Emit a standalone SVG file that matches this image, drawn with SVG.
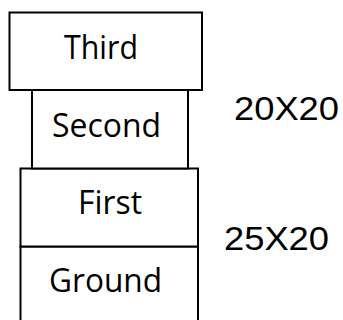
<svg xmlns="http://www.w3.org/2000/svg" width="343" height="320" viewBox="0 0 343 320">
<style>
.box{fill:#fff;stroke:#000;stroke-width:2}
.lbl{font-family:"Open Sans","Noto Sans",sans-serif;font-size:33px;fill:#000;text-anchor:middle}
.dim{font-family:"Liberation Sans",Arial,sans-serif;font-size:33px;fill:#000;text-anchor:middle}
</style>
<rect width="343" height="320" fill="#fff"/>
<g id="ground">
<rect class="box" x="20.5" y="246.5" width="177.5" height="90"/>
<text class="lbl" x="105.5" y="292" textLength="113" lengthAdjust="spacingAndGlyphs">Ground</text>
</g>
<g id="first">
<rect class="box" x="20.5" y="168.5" width="177.5" height="78"/>
<text class="lbl" x="110" y="214" textLength="64" lengthAdjust="spacingAndGlyphs">First</text>
</g>
<g id="second">
<rect class="box" x="32" y="90" width="156" height="78.5"/>
<text class="lbl" x="106.5" y="137" textLength="109" lengthAdjust="spacingAndGlyphs">Second</text>
</g>
<g id="third">
<rect class="box" x="9.5" y="12.5" width="192.5" height="77.5"/>
<text class="lbl" x="101" y="59" textLength="74" lengthAdjust="spacingAndGlyphs">Third</text>
</g>
<g id="dim1">
<text class="dim" x="286.5" y="120" textLength="105" lengthAdjust="spacingAndGlyphs">20X20</text>
</g>
<g id="dim2">
<text class="dim" x="276.5" y="250" textLength="105" lengthAdjust="spacingAndGlyphs">25X20</text>
</g>
<g id="connectors"></g>
</svg>
